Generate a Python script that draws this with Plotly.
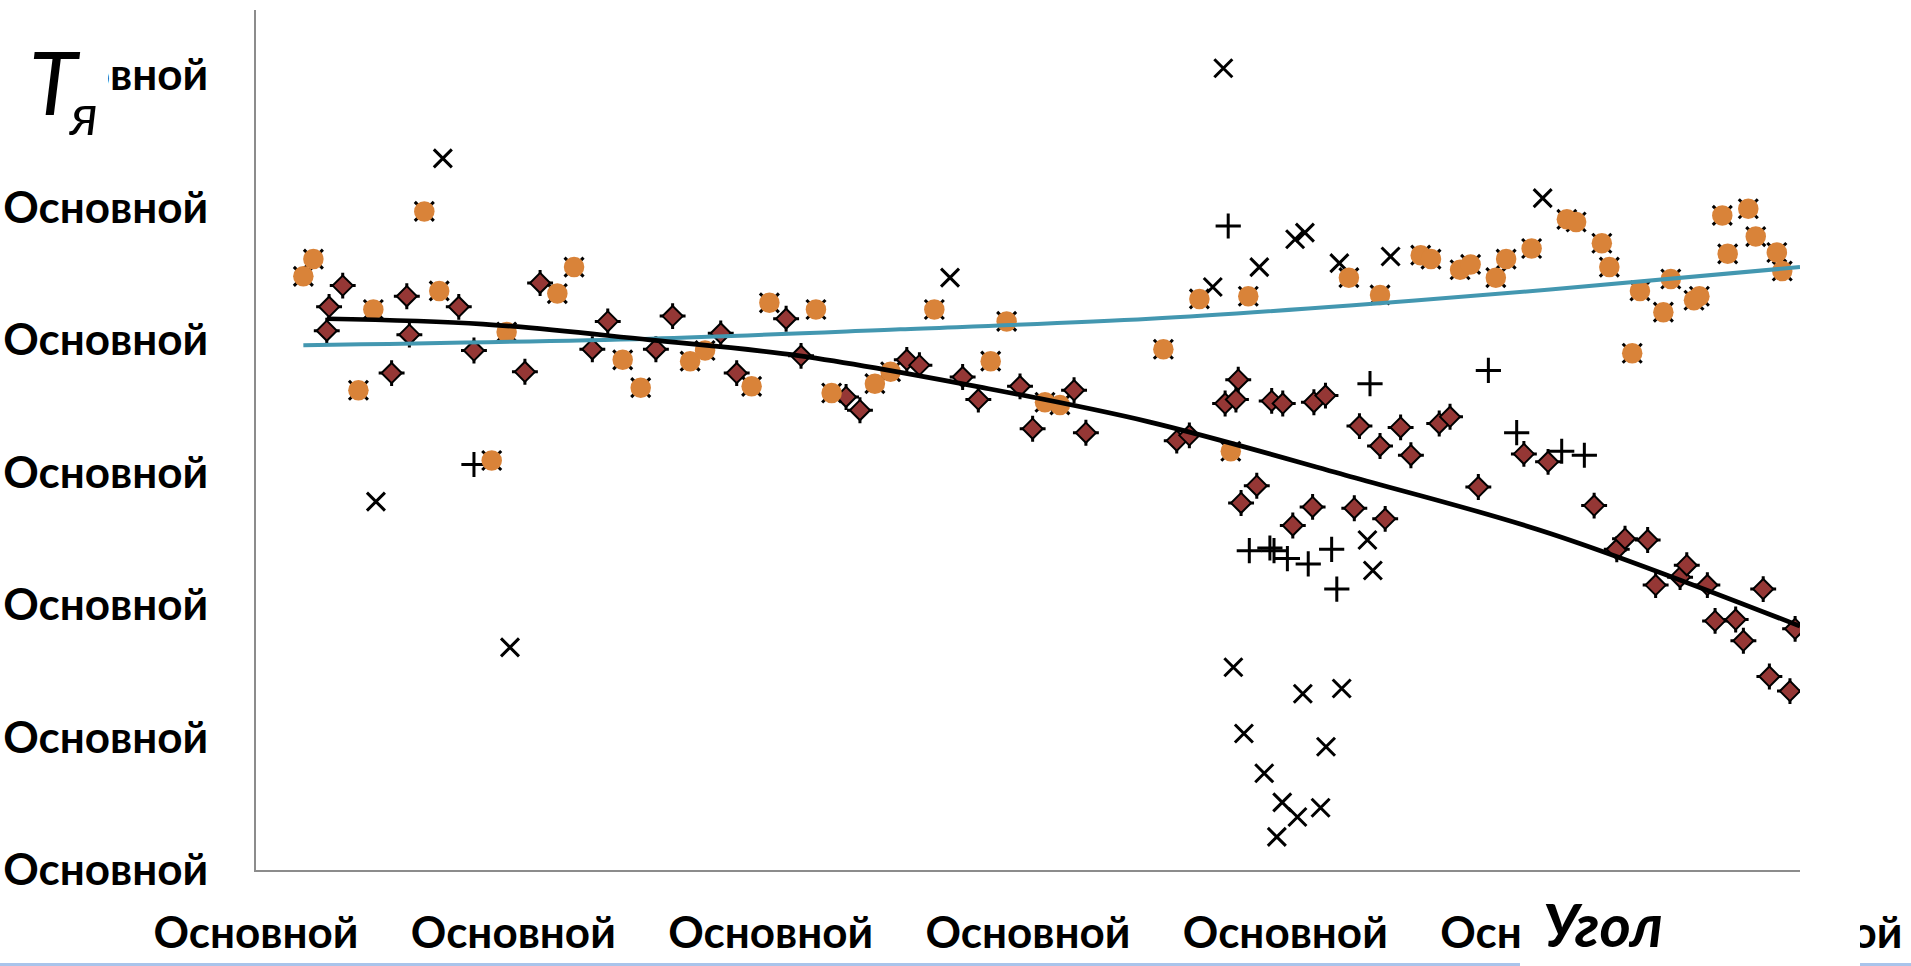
import plotly.graph_objects as go

# ---------------- data ----------------
orange_x = [1.84, 2.23, 3.98, 4.56, 6.54, 7.12, 9.16, 9.74, 11.71, 12.36, 14.25, 14.95,
            16.87, 17.45, 19.26, 19.95, 21.76, 22.37, 24.05, 24.66, 26.36, 28.55, 29.17,
            30.66, 31.24, 35.26, 36.66, 37.88, 38.56, 42.47, 43.68, 45.26, 45.66, 46.79,
            47.20, 48.18, 48.58, 49.57, 50.94, 51.30, 52.30, 52.59, 53.48, 53.78, 54.69,
            54.98, 55.88, 56.09, 56.98, 57.19, 57.99, 58.28, 59.10, 59.31]
orange_y = [4.48, 4.61, 3.62, 4.23, 4.97, 4.37, 3.09, 4.06, 4.35, 4.55, 3.85, 3.64,
            3.84, 3.92, 3.65, 4.28, 4.23, 3.60, 3.67, 3.76, 4.23, 3.84, 4.14,
            3.53, 3.51, 3.93, 4.31, 3.16, 4.33, 4.47, 4.34, 4.64, 4.61, 4.53,
            4.57, 4.47, 4.61, 4.69, 4.91, 4.89, 4.73, 4.55, 3.90, 4.37, 4.21,
            4.46, 4.30, 4.33, 4.94, 4.65, 4.99, 4.78, 4.66, 4.52]

diamond_x = [2.75, 2.84, 3.37, 5.27, 5.86, 5.96, 7.88, 8.47, 10.45, 11.04, 13.07, 13.67,
             15.54, 16.19, 18.06, 18.68, 20.60, 21.18, 22.93, 23.47, 25.29, 25.78, 27.46,
             28.07, 29.69, 30.18, 31.79, 32.25, 35.78, 36.27, 37.66, 38.08, 38.17, 38.28,
             38.89, 39.47, 39.90, 40.29, 41.06, 41.11, 41.56, 42.68, 42.88, 43.68, 43.88,
             44.48, 44.88, 45.98, 46.40, 47.50, 49.27, 50.21, 52.00, 52.88, 53.20, 54.08,
             54.39, 55.34, 55.60, 56.40, 56.70, 57.50, 57.80, 58.57, 58.81, 59.61, 59.81]
diamond_y = [4.07, 4.25, 4.41, 3.75, 4.33, 4.04, 4.25, 3.92, 3.76, 4.43, 3.93, 4.14,
             3.93, 4.18, 4.05, 3.75, 4.16, 3.88, 3.57, 3.47, 3.85, 3.81, 3.72,
             3.55, 3.65, 3.33, 3.62, 3.30, 3.24, 3.28, 3.52, 3.55, 3.70, 2.77,
             2.90, 3.54, 3.52, 2.60, 2.74, 3.53, 3.58, 2.73, 3.35, 3.20, 2.65,
             3.34, 3.13, 3.37, 3.42, 2.89, 3.14, 3.08, 2.75, 2.42, 2.50, 2.49,
             2.15, 2.21, 2.30, 2.15, 1.88, 1.89, 1.73, 2.12, 1.46, 1.35, 1.82]

xmark_x = [7.26, 4.66, 9.87, 26.97, 37.59, 37.18, 38.99, 40.38, 40.76, 42.10, 44.09, 50.00,
           43.19, 43.40, 37.98, 40.68, 42.19, 38.39, 41.58, 39.18, 39.88, 40.47, 41.37, 39.67]
xmark_y = [5.37, 2.78, 1.68, 4.47, 6.05, 4.40, 4.55, 4.76, 4.81, 4.58, 4.63, 5.07,
           2.49, 2.26, 1.53, 1.33, 1.37, 1.03, 0.93, 0.73, 0.51, 0.40, 0.47, 0.25]

plus_x = [8.47, 37.78, 47.89, 43.29, 48.99, 50.74, 51.62, 38.60, 39.40, 39.56, 40.08,
          40.89, 41.80, 42.00]
plus_y = [3.06, 4.86, 3.77, 3.67, 3.30, 3.16, 3.13, 2.41, 2.43, 2.41, 2.35,
          2.31, 2.42, 2.12]

trend_black_x = [2.75, 8.82, 15.31, 21.14, 28.25, 34.74, 42.51, 50.29, 60.0]
trend_black_y = [4.16, 4.12, 4.00, 3.88, 3.64, 3.38, 2.97, 2.54, 1.84]

trend_teal_x = [1.84, 15.31, 25.03, 34.74, 42.51, 50.29, 60.0]
trend_teal_y = [3.96, 4.01, 4.08, 4.16, 4.26, 4.38, 4.55]

x_tick_vals = [0, 10, 20, 30, 40, 50, 60]
y_tick_vals = [0, 1, 2, 3, 4, 5, 6]
tick_text = "Основной"
x_title = "Угол"
y_title_main = "T"
y_title_sub = "я"

# ---------------- figure ----------------
W, H = 1911, 966
ML, MR, MT, MB = 256, 111, 10, 96
PW, PH = W - ML - MR, H - MT - MB


def px(xp):
    return (xp - ML) / PW


def py(yp):
    return (H - MB - yp) / PH


FONT = "Lato, 'Open Sans', sans-serif"
fig = go.Figure()

# diamond series: black cross under a dark red diamond
fig.add_trace(go.Scatter(x=diamond_x, y=diamond_y, mode="markers", hoverinfo="skip",
                         marker=dict(symbol="cross-thin", size=18.5, color="black",
                                     line=dict(color="black", width=3))))
fig.add_trace(go.Scatter(x=diamond_x, y=diamond_y, mode="markers",
                         marker=dict(symbol="diamond", size=15.5, color="#953735",
                                     line=dict(color="black", width=2))))
# plus series
fig.add_trace(go.Scatter(x=plus_x, y=plus_y, mode="markers",
                         marker=dict(symbol="cross-thin", size=18, color="black",
                                     line=dict(color="black", width=3))))
# x series
fig.add_trace(go.Scatter(x=xmark_x, y=xmark_y, mode="markers",
                         marker=dict(symbol="x-thin", size=18, color="black",
                                     line=dict(color="black", width=3))))
# orange series: corner dots under an orange circle
fig.add_trace(go.Scatter(x=orange_x, y=orange_y, mode="markers", hoverinfo="skip",
                         marker=dict(symbol="x-thin", size=19, color="black",
                                     line=dict(color="black", width=3))))
fig.add_trace(go.Scatter(x=orange_x, y=orange_y, mode="markers",
                         marker=dict(symbol="circle", size=20.5, color="#D98339",
                                     line=dict(width=0))))
# trend lines
fig.add_trace(go.Scatter(x=trend_teal_x, y=trend_teal_y, mode="lines",
                         line=dict(color="#4397B0", width=4, shape="spline")))
fig.add_trace(go.Scatter(x=trend_black_x, y=trend_black_y, mode="lines",
                         line=dict(color="black", width=4.7, shape="spline")))

tickfont = dict(family=FONT, size=44, color="black", weight="bold")
fig.update_layout(
    width=W, height=H, autosize=False,
    margin=dict(l=ML, r=MR, t=MT, b=MB, pad=0, autoexpand=False),
    paper_bgcolor="white", plot_bgcolor="white", showlegend=False,
    xaxis=dict(range=[0, 60], tickmode="array", tickvals=x_tick_vals,
               ticktext=[tick_text] * len(x_tick_vals), showgrid=False, zeroline=False,
               showline=True, linecolor="#8c8c8c", linewidth=2, ticks="",
               tickfont=tickfont, ticklabelstandoff=23, automargin=False),
    yaxis=dict(range=[0, 6.49], tickmode="array", tickvals=y_tick_vals,
               ticktext=[tick_text] * len(y_tick_vals), showgrid=False, zeroline=False,
               showline=True, linecolor="#8c8c8c", linewidth=2, ticks="",
               tickfont=tickfont, ticklabelstandoff=37, automargin=False),
)

shapes = [
    # light blue line at the very bottom
    dict(type="line", xref="paper", yref="paper", x0=px(-20), x1=px(W + 20),
         y0=py(964.5), y1=py(964.5), line=dict(color="#A9C4EB", width=3), layer="above"),
    # white boxes behind the axis titles
    dict(type="rect", xref="paper", yref="paper", x0=px(-20), x1=px(108),
         y0=py(140), y1=py(38), fillcolor="white", line=dict(width=0), layer="above"),
    dict(type="rect", xref="paper", yref="paper", x0=px(1520), x1=px(1860),
         y0=py(H + 10), y1=py(892), fillcolor="white", line=dict(width=0), layer="above"),
]
fig.update_layout(shapes=shapes)

fig.add_annotation(text="<i>%s</i>" % y_title_main, xref="paper", yref="paper",
                   x=px(55), y=py(81), xanchor="center", yanchor="middle", showarrow=False,
                   font=dict(family=FONT, size=88, color="black"))
fig.add_annotation(text="<i>%s</i>" % y_title_sub, xref="paper", yref="paper",
                   x=px(83), y=py(114), xanchor="center", yanchor="middle", showarrow=False,
                   font=dict(family=FONT, size=56, color="black"))
fig.add_annotation(text="<b><i>%s</i></b>" % x_title, xref="paper", yref="paper",
                   x=px(1603), y=py(924), xanchor="center", yanchor="middle", showarrow=False,
                   font=dict(family=FONT, size=60, color="black"))

fig.write_html(
    "out.html",
    post_script=("document.documentElement.style.margin='0';"
                 "document.body.style.margin='0';"
                 "document.documentElement.style.overflow='hidden';"
                 "document.body.style.overflow='hidden';"),
)
